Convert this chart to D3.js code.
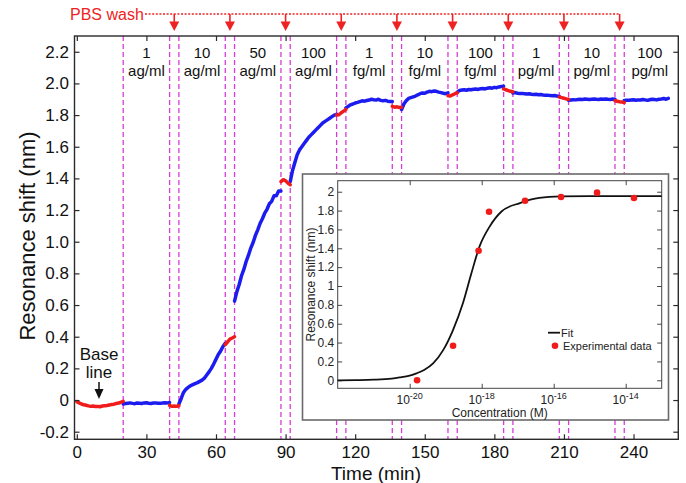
<!DOCTYPE html>
<html>
<head>
<meta charset="utf-8">
<script src="https://cdn.jsdelivr.net/npm/d3@7"></script>
<style>
  html, body { margin: 0; padding: 0; background: #fff; }
  svg { display: block; font-family: "Liberation Sans", Arial, Helvetica, sans-serif; }
</style>
</head>
<body>
<svg id="chart" width="686" height="483"></svg>
<script>
// ---- Sensor trace: phases of the experiment (minutes) ----
const phaseStart = [0, 20, 40, 44, 64, 68, 88, 92, 112, 116, 136, 140, 160, 164, 184, 188, 208, 212, 232, 236];
const phaseKind  = ["baseline", "sample", "wash", "sample", "wash", "sample", "wash", "sample", "wash", "sample",
                    "wash", "sample", "wash", "sample", "wash", "sample", "wash", "sample", "wash", "sample"];
// resonance shift (nm), one reading per minute from each phase start
const shiftByPhase = [
  [-0.010,-0.018,-0.025,-0.030,-0.033,-0.037,-0.040,-0.038,-0.041,-0.040,-0.042,-0.038,-0.036,-0.034,-0.031,-0.028,-0.026,-0.022,-0.019,-0.014,-0.008],
  [-0.025,-0.022,-0.020,-0.018,-0.021,-0.023,-0.019,-0.020,-0.022,-0.018,-0.017,-0.020,-0.022,-0.019,-0.018,-0.020,-0.021,-0.019,-0.017,-0.018,-0.016],
  [-0.034,-0.040,-0.038,-0.040,-0.036],
  [-0.025,0.010,0.048,0.068,0.080,0.090,0.097,0.104,0.110,0.118,0.126,0.138,0.158,0.178,0.200,0.228,0.258,0.288,0.310,0.338,0.358],
  [0.350,0.368,0.385,0.392,0.400],
  [0.625,0.685,0.730,0.785,0.825,0.875,0.915,0.960,0.995,1.040,1.075,1.115,1.145,1.180,1.205,1.240,1.255,1.290,1.290,1.320,1.320],
  [1.380,1.392,1.385,1.370,1.360],
  [1.380,1.450,1.500,1.550,1.580,1.600,1.620,1.640,1.660,1.675,1.690,1.705,1.720,1.735,1.750,1.760,1.770,1.780,1.790,1.800,1.805],
  [1.800,1.802,1.815,1.825,1.835],
  [1.845,1.855,1.865,1.870,1.876,1.880,1.885,1.890,1.888,1.892,1.895,1.900,1.897,1.895,1.900,1.893,1.890,1.893,1.888,1.886,1.885],
  [1.855,1.850,1.852,1.848,1.850],
  [1.835,1.870,1.890,1.905,1.910,1.915,1.920,1.928,1.935,1.940,1.938,1.945,1.950,1.948,1.952,1.950,1.945,1.942,1.938,1.935,1.940],
  [1.922,1.920,1.928,1.935,1.940],
  [1.945,1.955,1.958,1.960,1.957,1.962,1.960,1.963,1.965,1.962,1.966,1.968,1.965,1.970,1.972,1.970,1.975,1.973,1.978,1.980,1.982],
  [1.965,1.960,1.955,1.950,1.948],
  [1.940,1.942,1.938,1.936,1.937,1.935,1.933,1.935,1.932,1.930,1.931,1.928,1.930,1.927,1.925,1.926,1.923,1.922,1.924,1.920,1.918],
  [1.914,1.910,1.906,1.902,1.900],
  [1.893,1.895,1.897,1.896,1.898,1.900,1.899,1.901,1.900,1.898,1.900,1.902,1.900,1.899,1.901,1.900,1.902,1.900,1.899,1.901,1.900],
  [1.890,1.887,1.884,1.882,1.880],
  [1.892,1.894,1.893,1.895,1.897,1.894,1.896,1.895,1.898,1.896,1.893,1.897,1.900,1.898,1.896,1.900,1.902,1.905,1.900,1.906]
];

// solution changes (dashed guides) and PBS wash arrows
const boundaryTimes = [20, 40, 44, 64, 68, 88, 92, 112, 116, 136, 140, 160, 164, 184, 188, 208, 212, 232, 236];
const washTimes = [42, 66, 90, 114, 138, 162, 186, 210, 234];

// concentration of each injected sample
const concValue = ["1", "10", "50", "100", "1", "10", "100", "1", "10", "100"];
const concUnit  = ["ag/ml", "ag/ml", "ag/ml", "ag/ml", "fg/ml", "fg/ml", "fg/ml", "pg/ml", "pg/ml", "pg/ml"];
const concStart = [20, 44, 68, 92, 116, 140, 164, 188, 212, 236];
const concEnd   = [40, 64, 88, 112, 136, 160, 184, 208, 232, 258];

const xTicks = [0, 30, 60, 90, 120, 150, 180, 210, 240];
const yTicks = [-0.2, 0, 0.2, 0.4, 0.6, 0.8, 1.0, 1.2, 1.4, 1.6, 1.8, 2.0, 2.2];

// ---- Inset: dose response ----
const insetConc  = [1.6e-20, 1.6e-19, 8.2e-19, 1.6e-18, 1.6e-17, 1.6e-16, 1.6e-15, 1.7e-14];
const insetShift = [0.0, 0.367, 1.374, 1.788, 1.905, 1.944, 1.990, 1.933];
const fitLogConc = [-22, -21.5, -21, -20.5, -20.28, -20, -19.81, -19.6, -19.35, -19.07, -18.8, -18.52, -18.29, -18.06, -17.78, -17.45, -16.94, -16.4, -15.8, -15, -14, -13];
const fitShift   = [0, 0.002, 0.006, 0.018, 0.03, 0.05, 0.074, 0.11, 0.18, 0.32, 0.53, 0.82, 1.13, 1.42, 1.63, 1.79, 1.88, 1.935, 1.95, 1.953, 1.953, 1.953];
const insetXTickExp = [-20, -18, -16, -14];
const insetYTicks = [0, 0.2, 0.4, 0.6, 0.8, 1, 1.2, 1.4, 1.6, 1.8, 2];

// ---- drawing ----
const svg = d3.select("#chart");
const RED = "#f01c1c", BLUE = "#1c1cf0", MAGENTA = "#d83cd8", AX = "#2a2a2a";

const plot = { left: 74.5, right: 678.3, top: 36, bottom: 439.3 };
const x = d3.scaleLinear().domain([-1, 259.3]).range([plot.left, plot.right]);
const y = d3.scaleLinear().domain([-0.248, 2.2995]).range([plot.bottom, plot.top]);

// dashed guides at every solution change
svg.append("g").selectAll("line").data(boundaryTimes).join("line")
  .attr("x1", d => x(d)).attr("x2", d => x(d))
  .attr("y1", plot.top).attr("y2", plot.bottom)
  .attr("stroke", MAGENTA).attr("stroke-width", 1.3).attr("stroke-dasharray", "5,3");

// concentration labels
const labels = svg.append("g").attr("font-size", 15).attr("fill", "#111").attr("text-anchor", "middle");
concValue.forEach((v, i) => {
  const cx = x((concStart[i] + concEnd[i]) / 2);
  labels.append("text").attr("x", cx).attr("y", 58).text(v);
  labels.append("text").attr("x", cx).attr("y", 76).text(concUnit[i]);
});

// trace
const line = d3.line().x(d => x(d[0])).y(d => y(d[1]));
const traceG = svg.append("g").attr("fill", "none").attr("stroke-width", 3.5)
  .attr("stroke-linejoin", "round").attr("stroke-linecap", "round");
const order = d3.range(phaseStart.length).sort((a, b) => (phaseKind[a] === "sample") - (phaseKind[b] === "sample")).reverse();
order.forEach(i => {
  const pts = shiftByPhase[i].map((v, k) => [phaseStart[i] + k, v]);
  traceG.append("path").attr("d", line(pts))
    .attr("stroke", phaseKind[i] === "sample" ? BLUE : RED);
});

// axes
const gx = svg.append("g").attr("transform", `translate(0,${plot.bottom})`)
  .call(d3.axisBottom(x).tickValues(xTicks).tickFormat(d3.format("d")).tickSizeInner(-5).tickSizeOuter(0).tickPadding(6.6));
const gy = svg.append("g").attr("transform", `translate(${plot.left},0)`)
  .call(d3.axisLeft(y).tickValues(yTicks).tickFormat(v => Math.abs(v) < 1e-9 ? "0" : v.toFixed(1)).tickSizeInner(-5).tickSizeOuter(0).tickPadding(5.5));
const gxt = svg.append("g").attr("transform", `translate(0,${plot.top})`)
  .call(d3.axisTop(x).tickValues(xTicks).tickFormat("").tickSizeInner(-5).tickSizeOuter(0));
const gyr = svg.append("g").attr("transform", `translate(${plot.right},0)`)
  .call(d3.axisRight(y).tickValues(yTicks).tickFormat("").tickSizeInner(-5).tickSizeOuter(0));
[gx, gy, gxt, gyr].forEach(g => {
  g.select(".domain").remove();
  g.selectAll(".tick line").attr("stroke", AX).attr("stroke-width", 1.2);
  g.selectAll(".tick text").attr("font-size", 17).attr("fill", "#111")
    .attr("font-family", "'Liberation Sans', Arial, sans-serif");
});
svg.append("rect").attr("x", plot.left).attr("y", plot.top)
  .attr("width", plot.right - plot.left).attr("height", plot.bottom - plot.top)
  .attr("fill", "none").attr("stroke", AX).attr("stroke-width", 1.4);

// axis titles
svg.append("text").attr("transform", "translate(35,236) rotate(-90)")
  .attr("text-anchor", "middle").attr("font-size", 22).attr("fill", "#111").text("Resonance shift (nm)");
svg.append("text").attr("x", 376).attr("y", 479.5).attr("text-anchor", "middle")
  .attr("font-size", 19).attr("fill", "#111").text("Time (min)");

// baseline marker
svg.append("text").attr("x", 99).attr("y", 359.5).attr("text-anchor", "middle")
  .attr("font-size", 17).attr("fill", "#111").text("Base");
svg.append("text").attr("x", 99).attr("y", 378).attr("text-anchor", "middle")
  .attr("font-size", 17).attr("fill", "#111").text("line");
svg.append("line").attr("x1", 99).attr("x2", 99).attr("y1", 382).attr("y2", 391)
  .attr("stroke", "#111").attr("stroke-width", 1.5);
svg.append("path").attr("d", "M94.5,389 L103.5,389 L99,399 Z").attr("fill", "#111");

// PBS wash markers
const red2 = "#ee2222";
svg.append("text").attr("x", 70).attr("y", 19.5).attr("font-size", 16).attr("fill", red2).text("PBS wash");
svg.append("line").attr("x1", 145).attr("x2", x(washTimes[washTimes.length - 1]))
  .attr("y1", 14).attr("y2", 14).attr("stroke", red2).attr("stroke-width", 1.3).attr("stroke-dasharray", "2,1.6");
const arrows = svg.append("g");
washTimes.forEach(t => {
  const ax = x(t);
  arrows.append("line").attr("x1", ax).attr("x2", ax).attr("y1", 14).attr("y2", 23)
    .attr("stroke", red2).attr("stroke-width", 1.6);
  arrows.append("path").attr("d", `M${ax - 5},21.5 L${ax + 5},21.5 L${ax},31 Z`).attr("fill", red2);
});

// ---- inset ----
const inset = { left: 337.7, right: 661.7, top: 180.7, bottom: 388.3 };
svg.append("rect").attr("x", 302.5).attr("y", 174).attr("width", 366).attr("height", 246)
  .attr("fill", "#fff").attr("stroke", "#6a6a6a").attr("stroke-width", 1.6);
const ix = d3.scaleLog().domain([1e-22, 1e-13]).range([inset.left, inset.right]);
const iy = d3.scaleLinear().domain([-0.085, 2.117]).range([inset.bottom, inset.top]);

const ig = svg.append("g");
const iTickVals = insetXTickExp.map(e => Math.pow(10, e));
const ixb = ig.append("g").attr("transform", `translate(0,${inset.bottom})`)
  .call(d3.axisBottom(ix).tickValues(iTickVals).tickFormat("").tickSizeInner(-4.5).tickSizeOuter(0));
const ixt = ig.append("g").attr("transform", `translate(0,${inset.top})`)
  .call(d3.axisTop(ix).tickValues(iTickVals).tickFormat("").tickSizeInner(-4.5).tickSizeOuter(0));
const iyl = ig.append("g").attr("transform", `translate(${inset.left},0)`)
  .call(d3.axisLeft(iy).tickValues(insetYTicks).tickFormat(v => String(+v.toFixed(1))).tickSizeInner(-4.5).tickSizeOuter(0).tickPadding(3.5));
const iyr = ig.append("g").attr("transform", `translate(${inset.right},0)`)
  .call(d3.axisRight(iy).tickValues(insetYTicks).tickFormat("").tickSizeInner(-4.5).tickSizeOuter(0));
[ixb, ixt, iyl, iyr].forEach(g => {
  g.select(".domain").remove();
  g.selectAll(".tick line").attr("stroke", "#444").attr("stroke-width", 1);
  g.selectAll(".tick text").attr("font-size", 12).attr("fill", "#222")
    .attr("font-family", "'Liberation Sans', Arial, sans-serif");
});
// power-of-ten labels
insetXTickExp.forEach(e => {
  const t = ig.append("text").attr("x", ix(Math.pow(10, e))).attr("y", 404)
    .attr("text-anchor", "middle").attr("font-size", 12).attr("fill", "#222");
  t.append("tspan").text("10");
  t.append("tspan").attr("dy", -5.5).attr("font-size", 9).text(String(e));
});
ig.append("rect").attr("x", inset.left).attr("y", inset.top)
  .attr("width", inset.right - inset.left).attr("height", inset.bottom - inset.top)
  .attr("fill", "none").attr("stroke", "#444").attr("stroke-width", 1);

// fit curve and measured points
const fitLine = d3.line().curve(d3.curveMonotoneX)
  .x((d, i) => ix(Math.pow(10, d))).y((d, i) => iy(fitShift[i]));
ig.append("path").attr("d", fitLine(fitLogConc)).attr("fill", "none")
  .attr("stroke", "#111").attr("stroke-width", 1.8);
ig.append("g").selectAll("circle").data(insetConc).join("circle")
  .attr("cx", d => ix(d)).attr("cy", (d, i) => iy(insetShift[i])).attr("r", 3.3).attr("fill", RED);

// inset titles
ig.append("text").attr("transform", `translate(315,${(inset.top + inset.bottom) / 2}) rotate(-90)`)
  .attr("text-anchor", "middle").attr("font-size", 12).attr("fill", "#222").text("Resonance shift (nm)");
ig.append("text").attr("x", (inset.left + inset.right) / 2).attr("y", 417)
  .attr("text-anchor", "middle").attr("font-size", 12).attr("fill", "#222").text("Concentration (M)");

// inset legend
ig.append("line").attr("x1", 548).attr("x2", 560).attr("y1", 332.7).attr("y2", 332.7)
  .attr("stroke", "#111").attr("stroke-width", 1.8);
ig.append("text").attr("x", 561).attr("y", 336.7).attr("font-size", 11).attr("fill", "#222").text("Fit");
ig.append("circle").attr("cx", 555).attr("cy", 345.7).attr("r", 3.3).attr("fill", RED);
ig.append("text").attr("x", 563).attr("y", 349.7).attr("font-size", 11).attr("fill", "#222").text("Experimental data");
</script>
</body>
</html>
